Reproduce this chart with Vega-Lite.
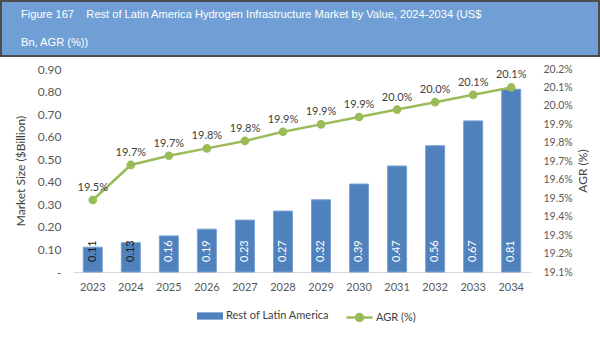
{
  "$schema": "https://vega.github.io/schema/vega-lite/v6.json",
  "padding": 0,
  "spacing": 6,
  "background": "white",
  "config": {
    "font": "Lato",
    "view": {"stroke": null},
    "axis": {"labelColor": "#595959", "titleColor": "#404040", "labelFontSize": 11, "titleFontSize": 12, "titleFontWeight": "normal", "ticks": false, "grid": false, "labelFont": "Lato", "titleFont": "Lato", "labelOverlap": false}
  },
  "vconcat": [
    {
      "width": 598,
      "height": 55,
      "view": {"fill": "#6f9fd4", "stroke": "#4d4d4d", "strokeWidth": 2},
      "title": {
        "text": [
          "Figure 167\u00a0\u00a0\u00a0\u00a0Rest of Latin America Hydrogen Infrastructure Market by Value, 2024-2034 (US$",
          "\u00a0\u00a0\u00a0\u00a0\u00a0\u00a0\u00a0\u00a0\u00a0\u00a0\u00a0\u00a0\u00a0\u00a0\u00a0\u00a0\u00a0\u00a0\u00a0\u00a0\u00a0Bn, AGR (%))"
        ],
        "anchor": "start",
        "frame": "group",
        "orient": "top",
        "offset": -47,
        "dx": 20,
        "font": "Liberation Sans",
        "fontSize": 11.1,
        "fontWeight": "normal",
        "color": "#ffffff",
        "lineHeight": 28
      },
      "data": {"values": [{"t": ""}]},
      "mark": {"type": "text"},
      "encoding": {"text": {"field": "t"}}
    },
    {
      "spacing": 0,
      "hconcat": [
        {
          "width": 1,
          "height": 1,
          "data": {"values": [{"t": ""}]},
          "mark": {"type": "text"},
          "encoding": {"text": {"field": "t"}}
        },
        {
          "width": 458,
          "height": 203,
          "data": {
            "values": [
              {"year": "2023", "value": 0.11, "agr": 0.1949},
              {"year": "2024", "value": 0.13, "agr": 0.1968},
              {"year": "2025", "value": 0.16, "agr": 0.1973},
              {"year": "2026", "value": 0.19, "agr": 0.1977},
              {"year": "2027", "value": 0.23, "agr": 0.1981},
              {"year": "2028", "value": 0.27, "agr": 0.1986},
              {"year": "2029", "value": 0.32, "agr": 0.1990},
              {"year": "2030", "value": 0.39, "agr": 0.1994},
              {"year": "2031", "value": 0.47, "agr": 0.1998},
              {"year": "2032", "value": 0.56, "agr": 0.2002},
              {"year": "2033", "value": 0.67, "agr": 0.2006},
              {"year": "2034", "value": 0.81, "agr": 0.2010}
            ]
          },
          "encoding": {
            "x": {
              "field": "year",
              "type": "ordinal",
              "scale": {"paddingInner": 0.5, "paddingOuter": 0.27},
              "axis": {"title": null, "labelAngle": 0, "domainColor": "#d9d9d9", "domainWidth": 1, "labelPadding": 9, "labelOverlap": false}
            }
          },
          "layer": [
            {
              "layer": [
                {
                  "mark": {"type": "bar", "stroke": "#7aa0d2", "strokeWidth": 1},
                  "encoding": {
                    "y": {
                      "field": "value",
                      "type": "quantitative",
                      "scale": {"domain": [0, 0.9]},
                      "axis": {
                        "title": ["", "Market Size ($Billion)"],
                        "values": [0, 0.1, 0.2, 0.3, 0.4, 0.5, 0.6, 0.7, 0.8, 0.9],
                        "tickCount": 20,
                        "labelExpr": "datum.value == 0 ? '-' : format(datum.value, '.2f')",
                        "labelOverlap": false,
                        "domain": false,
                        "labelPadding": 12,
                        "titlePadding": 10,
                        "titleLineHeight": 12,
                        "labelFontSize": 12
                      }
                    },
                    "color": {
                      "datum": "Rest of Latin America",
                      "scale": {"range": ["#4f81bd"]},
                      "legend": {
                        "orient": "none",
                        "legendX": 196,
                        "legendY": 302,
                        "title": null,
                        "symbolType": "M-1,-0.28L1,-0.28L1,0.28L-1,0.28Z",
                        "symbolSize": 676,
                        "symbolStrokeWidth": 0,
                        "labelFontSize": 11,
                        "labelColor": "#404040",
                        "labelFont": "Lato",
                        "labelOffset": 3,
                        "padding": 0
                      }
                    }
                  }
                },
                {
                  "mark": {"type": "text", "angle": 270, "align": "left", "baseline": "middle", "dx": 10, "fontSize": 11},
                  "encoding": {
                    "y": {"datum": 0},
                    "text": {"field": "value", "type": "quantitative", "format": ".2f"},
                    "color": {"condition": {"test": "datum.value < 0.15", "value": "#1a1a1a"}, "value": "#ffffff"}
                  }
                }
              ]
            },
            {
              "layer": [
                {
                  "mark": {"type": "line", "strokeWidth": 2.5, "point": {"filled": true, "size": 45, "color": "#9bbb59"}},
                  "encoding": {
                    "y": {
                      "field": "agr",
                      "type": "quantitative",
                      "scale": {"domain": [0.191, 0.202]},
                      "axis": {
                        "orient": "right",
                        "title": "AGR (%)",
                        "titleAngle": 270,
                        "titleBaseline": "top",
                        "values": [0.191, 0.192, 0.193, 0.194, 0.195, 0.196, 0.197, 0.198, 0.199, 0.2, 0.201, 0.202],
                        "tickCount": 20,
                        "format": ".1%",
                        "labelOverlap": false,
                        "domain": false,
                        "labelPadding": 12,
                        "labelFontSize": 10.5,
                        "titlePadding": 5
                      }
                    },
                    "stroke": {
                      "datum": "AGR (%)",
                      "scale": {"range": ["#9bbb59"]},
                      "legend": {
                        "orient": "none",
                        "legendX": 344,
                        "legendY": 302,
                        "title": null,
                        "symbolType": "M-1,0L1,0M-0.27,0A0.27,0.27 0 1,0 0.27,0A0.27,0.27 0 1,0 -0.27,0",
                        "symbolSize": 676,
                        "symbolStrokeWidth": 2.5,
                        "symbolFillColor": "#9bbb59",
                        "labelFontSize": 11,
                        "labelColor": "#404040",
                        "labelFont": "Lato",
                        "labelOffset": 2,
                        "padding": 0
                      }
                    }
                  }
                },
                {
                  "mark": {"type": "text", "baseline": "bottom", "dy": -7, "fontSize": 11, "color": "#404040"},
                  "encoding": {
                    "y": {"field": "agr", "type": "quantitative"},
                    "text": {"field": "agr", "type": "quantitative", "format": ".1%"}
                  }
                }
              ]
            }
          ],
          "resolve": {"scale": {"y": "independent"}}
        }
      ]
    }
  ]
}
